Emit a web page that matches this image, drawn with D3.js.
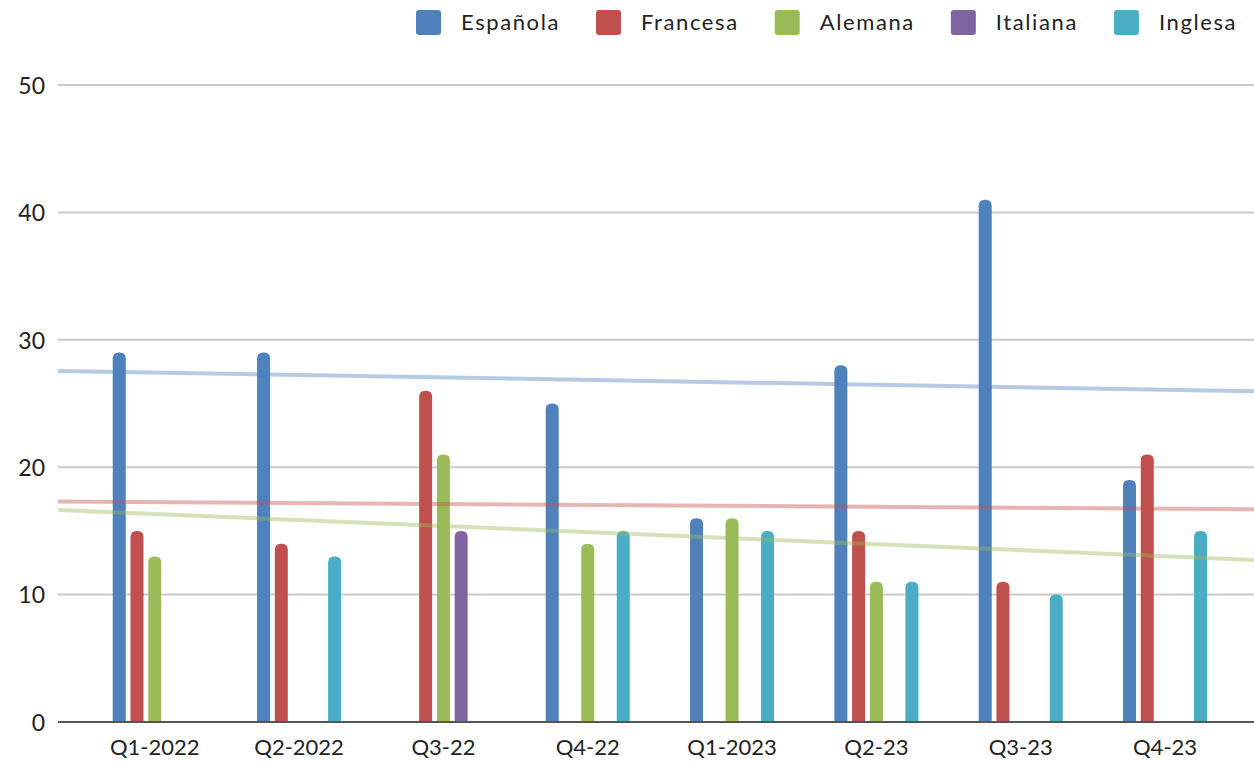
<!DOCTYPE html>
<html>
<head>
<meta charset="utf-8">
<script src="https://cdn.jsdelivr.net/npm/d3@7"></script>
<style>
  html, body { margin: 0; padding: 0; background: #fff; }
  svg { display: block; }
  text { font-family: Lato, "Open Sans", sans-serif; fill: #222; }
</style>
</head>
<body>
<svg id="chart" width="1254" height="762"></svg>
<script>
// Quarterly counts by nationality
const categories = ["Q1-2022", "Q2-2022", "Q3-22", "Q4-22", "Q1-2023", "Q2-23", "Q3-23", "Q4-23"];
const seriesNames = ["Española", "Francesa", "Alemana", "Italiana", "Inglesa"];
const espanola = [29, 29, null, 25, 16, 28, 41, 19];
const francesa = [15, 14, 26, null, null, 15, 11, 21];
const alemana  = [13, null, 21, 14, 16, 11, null, null];
const italiana = [null, null, 15, null, null, null, null, null];
const inglesa  = [null, 13, null, 15, 15, 11, 10, 15];
const yTicks = [0, 10, 20, 30, 40, 50];
// series that carry a linear trend line
const trendSeries = ["Española", "Francesa", "Alemana"];

const colors = ["#4f81bd", "#c0504d", "#9bbb59", "#8064a2", "#4bacc6"];
const seriesValues = [espanola, francesa, alemana, italiana, inglesa];
const series = seriesNames.map((name, i) => ({ name, values: seriesValues[i], color: colors[i] }));

const svg = d3.select("#chart");
const plotLeft = 58, plotRight = 1254;

const x = d3.scaleBand().domain(categories).range([82.6, 1237.2]).padding(0);
const slot = d3.scaleBand().domain(seriesNames).range([-44.4, 44.4]).padding(0);
const barW = 13;
const y = d3.scaleLinear().domain([0, 50]).range([722, 85]);

// horizontal gridlines
svg.append("g")
  .selectAll("line")
  .data(yTicks.filter(d => d > 0))
  .join("line")
  .attr("x1", plotLeft).attr("x2", plotRight)
  .attr("y1", d => y(d)).attr("y2", d => y(d))
  .attr("stroke", "#cbcbcb").attr("stroke-width", 2);

// y tick labels
const yAxis = d3.axisLeft(y).tickValues(yTicks).tickSize(0).tickPadding(0);
const yg = svg.append("g").attr("transform", "translate(45,0)").call(yAxis);
yg.select(".domain").remove();
yg.selectAll("text").style("font-size", "23px").style("font-family", "Lato, sans-serif")
  .attr("fill", "#222").attr("dy", "0.36em");

// bars with rounded tops
function barPath(x0, w, yTop, yBase) {
  const r = Math.min(w / 2, 6, (yBase - yTop));
  return `M${x0},${yBase}V${yTop + r}Q${x0},${yTop} ${x0 + r},${yTop}H${x0 + w - r}Q${x0 + w},${yTop} ${x0 + w},${yTop + r}V${yBase}Z`;
}

const barData = [];
series.forEach(s => {
  s.values.forEach((v, i) => {
    if (v != null) barData.push({ name: s.name, cat: categories[i], value: v, color: s.color });
  });
});

svg.append("g")
  .selectAll("path")
  .data(barData)
  .join("path")
  .attr("d", d => {
    const cx = x(d.cat) + x.bandwidth() / 2 + slot(d.name) + slot.bandwidth() / 2;
    return barPath(cx - barW / 2, barW, y(d.value), y(0));
  })
  .attr("fill", d => d.color);

// baseline axis
svg.append("line")
  .attr("x1", plotLeft).attr("x2", plotRight)
  .attr("y1", y(0)).attr("y2", y(0))
  .attr("stroke", "#555").attr("stroke-width", 2);

// x axis labels
const xAxis = d3.axisBottom(x).tickSize(0).tickPadding(0);
const xg = svg.append("g").attr("transform", `translate(0,${y(0)})`).call(xAxis);
xg.select(".domain").remove();
xg.selectAll("text").style("font-size", "22px").style("font-family", "Lato, sans-serif")
  .attr("fill", "#222").attr("y", 33).attr("dy", 0);

// linear trend lines (least squares on category index)
const idxToPx = d3.scaleLinear()
  .domain([1, categories.length])
  .range([x(categories[0]) + x.bandwidth() / 2, x(categories[categories.length - 1]) + x.bandwidth() / 2]);

const trendG = svg.append("g");
series.filter(s => trendSeries.includes(s.name)).forEach(s => {
  const pts = s.values.map((v, i) => [i + 1, v]).filter(p => p[1] != null);
  const mx = d3.mean(pts, p => p[0]), my = d3.mean(pts, p => p[1]);
  const sxy = d3.sum(pts, p => (p[0] - mx) * (p[1] - my));
  const sxx = d3.sum(pts, p => (p[0] - mx) ** 2);
  const slope = sxy / sxx, icpt = my - slope * mx;
  const i0 = idxToPx.invert(plotLeft), i1 = idxToPx.invert(plotRight);
  trendG.append("line")
    .attr("x1", plotLeft).attr("x2", plotRight)
    .attr("y1", y(icpt + slope * i0)).attr("y2", y(icpt + slope * i1))
    .attr("stroke", s.color).attr("stroke-opacity", 0.42).attr("stroke-width", 4);
});

// legend
const legend = svg.append("g");
let lx = 416;
series.forEach(s => {
  legend.append("rect")
    .attr("x", lx).attr("y", 10).attr("width", 25).attr("height", 25)
    .attr("rx", 3).attr("fill", s.color);
  const t = legend.append("text")
    .attr("x", lx + 45).attr("y", 30)
    .style("font-size", "22px")
    .style("letter-spacing", "1.6px")
    .text(s.name);
  lx += 45 + t.node().getComputedTextLength() + 36;
});
</script>
</body>
</html>
